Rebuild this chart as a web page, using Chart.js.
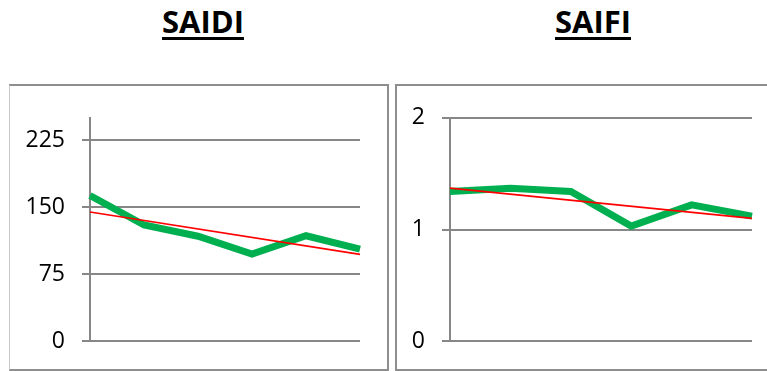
<!DOCTYPE html>
<html>
<head>
<meta charset="utf-8">
<script src="https://cdn.jsdelivr.net/npm/chart.js@4/dist/chart.umd.min.js"></script>
<style>
  html, body { margin: 0; padding: 0; background: #fff; }
  body { width: 767px; height: 371px; position: relative; overflow: hidden; }
  .title {
    position: absolute; width: 200px; text-align: center;
    font-family: "Open Sans", sans-serif; font-weight: 700; font-size: 31px;
    line-height: 31px; color: #000;
    text-decoration: underline; text-decoration-thickness: 3px; text-underline-offset: 4px;
  }
  .box { position: absolute; box-sizing: border-box; border: 2px solid #8e8e8e; background: #fff; }
  .box canvas { position: absolute; }
</style>
</head>
<body>
<div class="title" style="left:103px; top:6px;">SAIDI</div>
<div class="title" style="left:493px; top:6px;">SAIFI</div>

<div class="box" style="left:9px; top:84px; width:380px; height:287px; border-left:1px solid #c8c8c8;">
  <canvas id="saidi"></canvas>
</div>
<div class="box" style="left:395px; top:84px; width:380px; height:287px;">
  <canvas id="saifi"></canvas>
</div>

<script>
// Six reporting periods, no axis labels shown
const periods = ['1', '2', '3', '4', '5', '6'];

// SAIDI (minutes) and its linear trend
const saidiValues = [163, 130, 117.5, 97.5, 118, 103];
const saidiTrend = [144.5, null, null, null, null, 97.2];
const saidiTicks = [0, 75, 150, 225];

// SAIFI (interruptions) and its linear trend
const saifiValues = [1.34, 1.37, 1.34, 1.03, 1.22, 1.12];
const saifiTrend = [1.37, null, null, null, null, 1.10];
const saifiTicks = [0, 1, 2];

const GRID = '#878787';

function makeChart(id, size, axisWidth, padding, values, trend, ticks, yMax) {
  const canvas = document.getElementById(id);
  canvas.style.left = size.left + 'px';
  canvas.style.top = size.top + 'px';
  canvas.style.width = size.w + 'px';
  canvas.style.height = size.h + 'px';
  canvas.width = size.w;
  canvas.height = size.h;

  return new Chart(canvas, {
    type: 'line',
    data: {
      labels: periods,
      datasets: [
        {
          data: trend,
          borderColor: '#ff0000',
          borderWidth: 1.6,
          pointRadius: 0,
          spanGaps: true,
          order: 0
        },
        {
          data: values,
          borderColor: '#00b050',
          borderWidth: 7,
          pointRadius: 0,
          tension: 0,
          borderJoinStyle: 'miter',
          order: 1
        }
      ]
    },
    options: {
      responsive: false,
      animation: false,
      devicePixelRatio: 1,
      layout: { padding: padding },
      plugins: { legend: { display: false }, tooltip: { enabled: false } },
      scales: {
        x: { display: false, offset: false },
        y: {
          min: 0,
          max: yMax,
          afterFit: (scale) => { scale.width = axisWidth; },
          afterBuildTicks: (scale) => { scale.ticks = ticks.map(v => ({ value: v })); },
          grid: {
            color: GRID,
            lineWidth: 2,
            tickLength: 8,
            drawTicks: true
          },
          border: { color: GRID, width: 2 },
          ticks: {
            padding: 17,
            color: '#000',
            font: { family: '"Open Sans", sans-serif', size: 23 }
          }
        }
      }
    }
  });
}

makeChart('saidi', { left: 0, top: 1, w: 376, h: 285 }, 80,
  { top: 29, bottom: 27, left: 0, right: 26 },
  saidiValues, saidiTrend, saidiTicks, 250);

makeChart('saifi', { left: 0, top: 1, w: 372, h: 285 }, 53,
  { top: 27, bottom: 28, left: 0, right: 17 },
  saifiValues, saifiTrend, saifiTicks, 2);
</script>
</body>
</html>
